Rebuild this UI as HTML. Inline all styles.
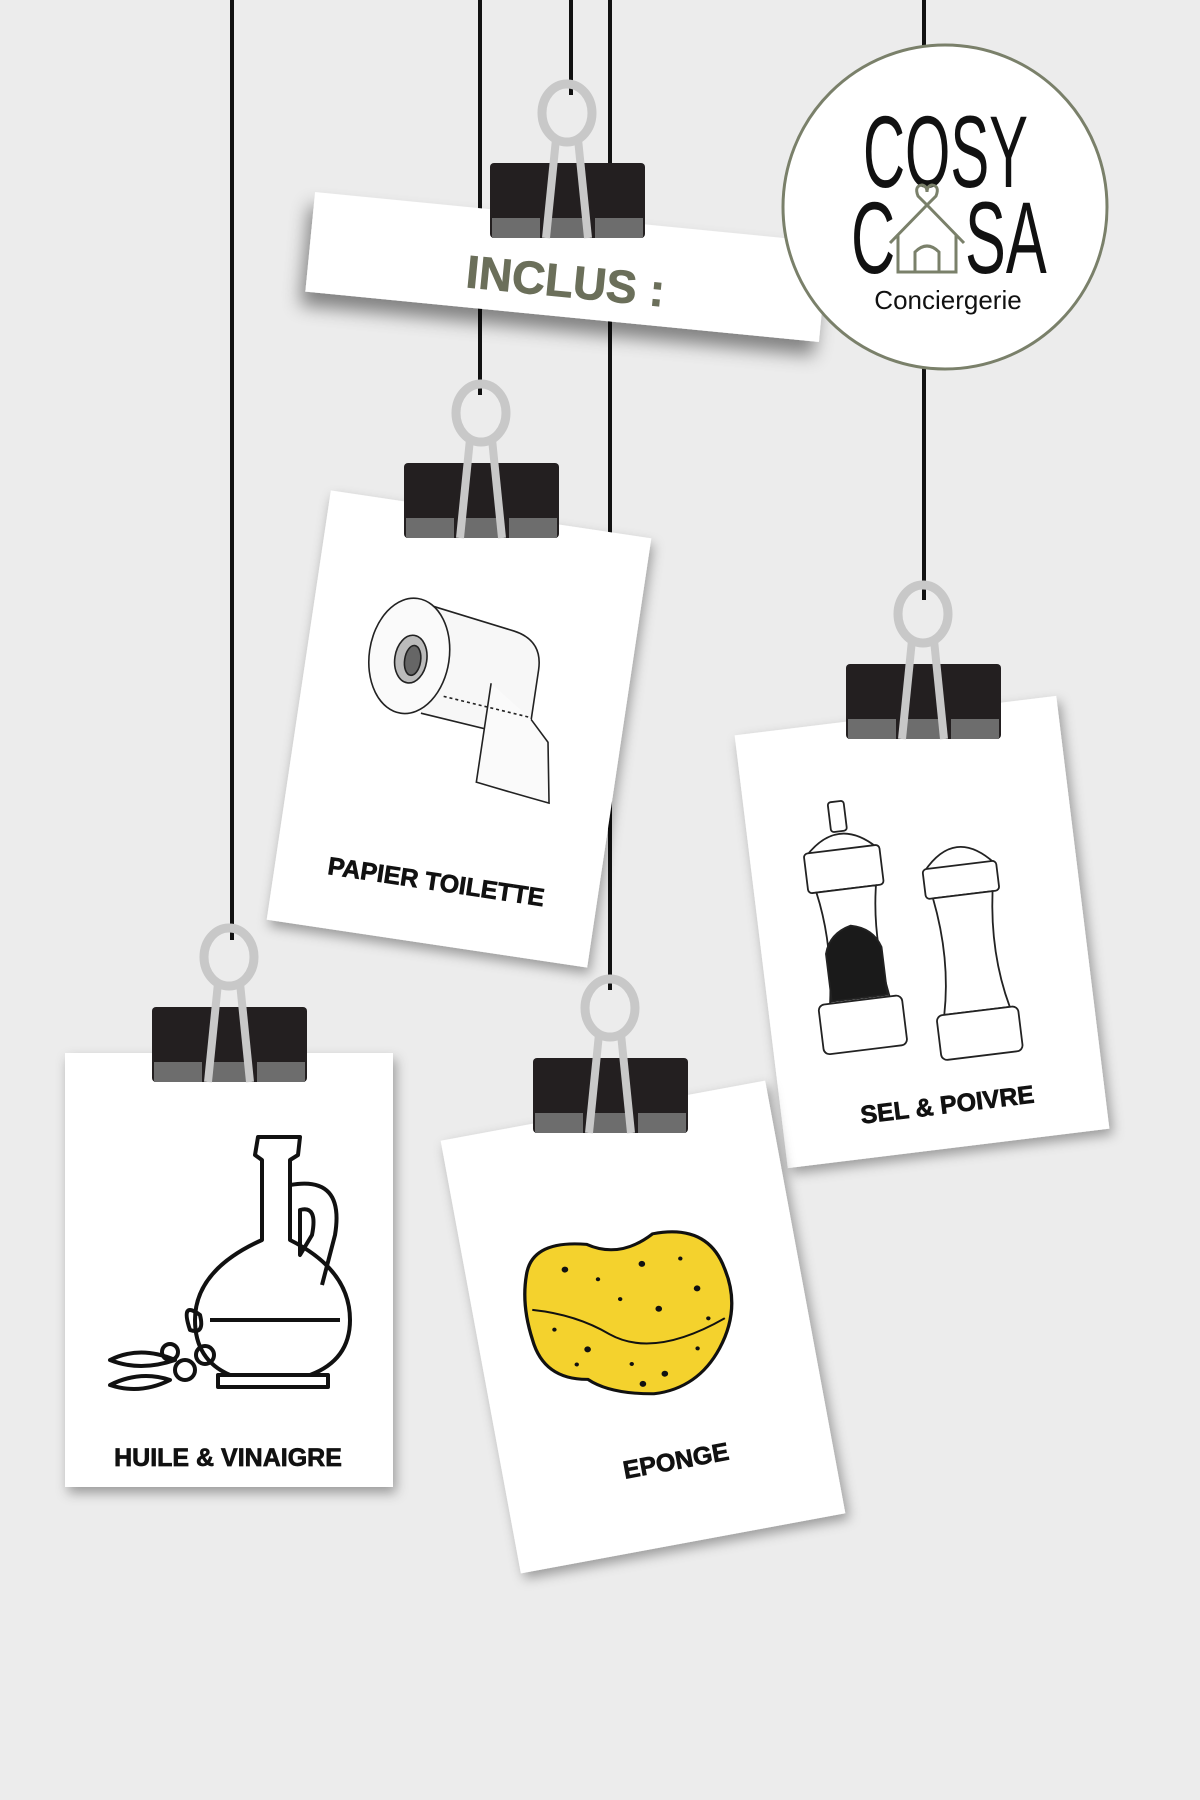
<!DOCTYPE html>
<html><head><meta charset="utf-8"><style>
html,body{margin:0;padding:0;background:#ececec;}
svg{display:block;}
text{font-family:"Liberation Sans",sans-serif;}
.lb{font-size:25px;font-weight:bold;fill:#111;stroke:#111;stroke-width:0.7;}
</style></head><body>
<svg width="1200" height="1800" viewBox="0 0 1200 1800" xmlns="http://www.w3.org/2000/svg">
<defs>
<filter id="sh" x="-20%" y="-20%" width="140%" height="150%">
<feDropShadow dx="3" dy="6" stdDeviation="6" flood-color="#000" flood-opacity="0.35"/>
</filter>
<filter id="sh2" x="-20%" y="-40%" width="140%" height="200%">
<feDropShadow dx="-4" dy="14" stdDeviation="9" flood-color="#000" flood-opacity="0.45"/>
</filter>
<g id="clip">
<rect x="0" y="0" width="155" height="75" rx="4" fill="#231f20"/>
<rect x="2" y="55" width="48" height="20" fill="#6d6d6d"/>
<rect x="55" y="55" width="45" height="20" fill="#6d6d6d"/>
<rect x="105" y="55" width="48" height="20" fill="#6d6d6d"/>
<ellipse cx="77" cy="-50" rx="25" ry="29" fill="none" stroke="#c8c8c8" stroke-width="9"/>
<line x1="66" y1="-24" x2="56" y2="75" stroke="#c8c8c8" stroke-width="8"/>
<line x1="88" y1="-24" x2="98" y2="75" stroke="#c8c8c8" stroke-width="8"/>
</g>
</defs>
<rect width="1200" height="1800" fill="#ececec"/>
<g stroke="#111" stroke-width="4">
<line x1="232" y1="0" x2="232" y2="940"/>
<line x1="480" y1="0" x2="480" y2="395"/>
<line x1="571" y1="0" x2="571" y2="95"/>
<line x1="610" y1="0" x2="610" y2="990"/>
<line x1="924" y1="0" x2="924" y2="600"/>
</g>

<g transform="translate(567,267) rotate(5.6)">
<rect x="-258" y="-50" width="516" height="100" fill="#fff" filter="url(#sh2)"/>
<text x="0" y="30" text-anchor="middle" font-size="46" font-weight="bold" fill="#6b6f5a" stroke="#6b6f5a" stroke-width="0.8">INCLUS :</text>
</g>
<use href="#clip" x="490" y="163"/>

<circle cx="945" cy="207" r="162" fill="#fff" stroke="#7a806a" stroke-width="3"/>
<text x="0" y="0" font-size="102" fill="#111" transform="translate(863,187) scale(0.6,1)" textLength="275" lengthAdjust="spacingAndGlyphs">COSY</text>
<text x="0" y="0" font-size="102" fill="#111" transform="translate(851,273) scale(0.6,1)">C</text>
<text x="0" y="0" font-size="102" fill="#111" transform="translate(965,273) scale(0.6,1)">SA</text>
<g fill="none" stroke="#7a806a" stroke-width="3">
<path d="M890,243 L927,205 L964,243"/>
<path d="M898,235 L898,272 L956,272 L956,235"/>
<path d="M915,272 L915,252 Q927,240 939,252 L939,272"/>
<path d="M927,205 L918,196 Q914,186 922,185 Q927,186 927,192 Q927,186 932,185 Q940,186 936,196 Z"/>
</g>
<text x="948" y="309" text-anchor="middle" font-size="26" fill="#111">Conciergerie</text>

<g transform="translate(459,729) rotate(8.5)">
<rect x="-162" y="-217" width="324" height="434" fill="#fff" filter="url(#sh)"/>
<g transform="translate(0,-60)" fill="none" stroke="#222" stroke-width="1.6">
<path d="M-60,-60 L40,-45 Q70,-40 70,-10 L70,60 L-40,50" fill="#f7f7f7"/>
<ellipse cx="-60" cy="-5" rx="40" ry="58" fill="#fafafa"/>
<ellipse cx="-58" cy="-2" rx="16" ry="24" fill="#bbb"/>
<ellipse cx="-56" cy="-1" rx="8" ry="15" fill="#666"/>
<path d="M25,10 L25,110 Q60,115 100,120 L90,60 L70,40" fill="#fafafa"/>
<line x1="-20" y1="30" x2="68" y2="38" stroke-dasharray="3 3"/>
</g>
<text x="0" y="163" text-anchor="middle" class="lb">PAPIER TOILETTE</text>
</g>
<use href="#clip" x="404" y="463"/>

<g transform="translate(922,932) rotate(-7)">
<rect x="-162" y="-218" width="324" height="436" fill="#fff" filter="url(#sh)"/>
<g fill="none" stroke="#222" stroke-width="1.8">
<rect x="-78" y="-140" width="16" height="30" rx="3" fill="#fff"/>
<path d="M-105,-90 Q-70,-125 -35,-90 Z" fill="#fff"/>
<rect x="-108" y="-92" width="76" height="40" rx="4" fill="#fff"/>
<path d="M-100,-52 Q-90,0 -100,60 L-40,60 Q-50,0 -40,-52 Z" fill="#fff"/>
<path d="M-98,10 Q-92,-10 -70,-15 Q-48,-10 -42,10 L-42,58 L-98,58 Z" fill="#1a1a1a"/>
<rect x="-112" y="60" width="84" height="50" rx="6" fill="#fff"/>
<path d="M10,-60 Q45,-100 80,-60 Z" fill="#fff"/>
<rect x="8" y="-62" width="74" height="30" rx="4" fill="#fff"/>
<path d="M15,-32 Q25,30 12,85 L78,85 Q65,30 75,-32 Z" fill="#fff"/>
<rect x="4" y="85" width="82" height="45" rx="6" fill="#fff"/>
</g>
<text x="4" y="183" text-anchor="middle" class="lb">SEL &amp; POIVRE</text>
</g>
<use href="#clip" x="846" y="664"/>

<rect x="65" y="1053" width="328" height="434" fill="#fff" filter="url(#sh)"/>
<g fill="none" stroke="#111" stroke-width="4" stroke-linejoin="round">
<path d="M258,1137 L300,1137 L298,1155 L290,1160 L290,1240 Q350,1270 350,1320 Q350,1360 310,1375 L230,1375 Q195,1360 195,1320 Q195,1270 262,1240 L262,1160 L255,1155 Z"/>
<path d="M290,1185 Q345,1175 335,1235 L322,1285"/>
<path d="M300,1210 Q318,1205 312,1235 L300,1255 Z"/>
<path d="M210,1320 L340,1320"/>
<rect x="218" y="1375" width="110" height="12"/>
<circle cx="185" cy="1370" r="10"/><circle cx="205" cy="1355" r="9"/><circle cx="170" cy="1352" r="8"/>
<path d="M110,1360 Q140,1345 175,1360 Q140,1372 110,1360 Z"/>
<path d="M110,1385 Q140,1370 170,1380 Q140,1395 110,1385 Z"/>
<path d="M190,1330 Q180,1300 200,1315 Q205,1335 190,1330 Z"/>
</g>
<text x="228" y="1466" text-anchor="middle" class="lb">HUILE &amp; VINAIGRE</text>
<use href="#clip" x="152" y="1007"/>

<g transform="translate(643,1327) rotate(-10.5)">
<rect x="-165" y="-220" width="330" height="440" fill="#fff" filter="url(#sh)"/>
<g transform="translate(-10,-10) rotate(10) scale(1.1,1)">
<path d="M-95,-45 Q-90,-80 -40,-75 Q-10,-60 20,-85 Q70,-95 85,-50 Q100,-10 80,30 Q60,70 20,75 Q-20,75 -40,60 Q-80,60 -90,20 Q-100,-15 -95,-45 Z" fill="#f4d22d" stroke="#111" stroke-width="3"/>
<path d="M-90,-10 Q-50,-5 -20,15 Q20,40 85,0" fill="none" stroke="#111" stroke-width="2"/>
<g fill="#111">
<circle cx="-60" cy="-50" r="3"/><circle cx="-30" cy="-40" r="2"/><circle cx="10" cy="-55" r="3"/><circle cx="45" cy="-60" r="2"/><circle cx="60" cy="-30" r="3"/>
<circle cx="-70" cy="10" r="2"/><circle cx="-40" cy="30" r="3"/><circle cx="0" cy="45" r="2"/><circle cx="30" cy="55" r="3"/><circle cx="60" cy="30" r="2"/>
<circle cx="-10" cy="-20" r="2"/><circle cx="25" cy="-10" r="3"/><circle cx="70" cy="0" r="2"/><circle cx="-50" cy="45" r="2"/><circle cx="10" cy="65" r="3"/>
</g>
</g>
<text x="8" y="146" text-anchor="middle" class="lb">EPONGE</text>
</g>
<use href="#clip" x="533" y="1058"/>
</svg>
</body></html>
